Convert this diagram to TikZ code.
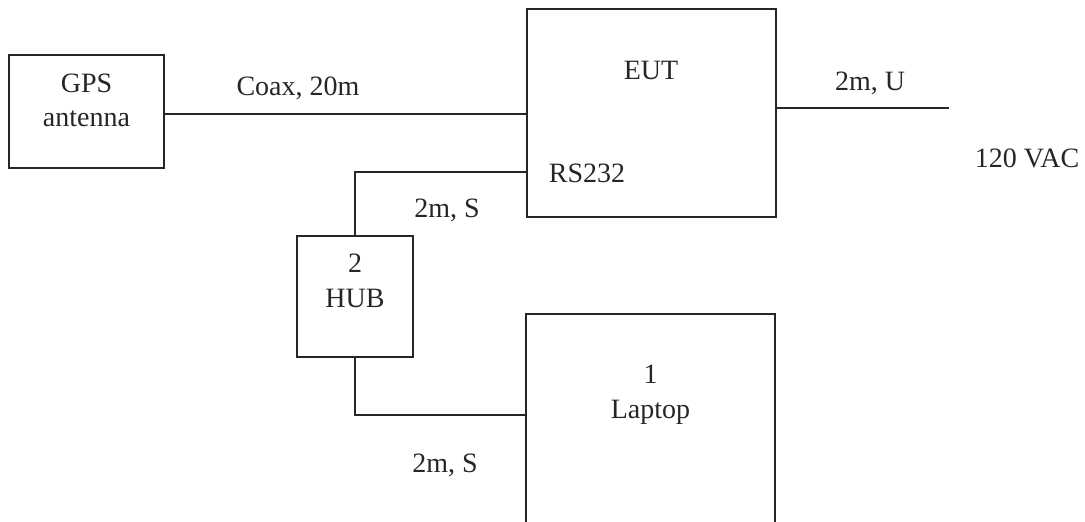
\documentclass[tikz,border=0pt]{standalone}
\usepackage{fontspec}
\setmainfont{Liberation Serif}
\tikzset{
  box/.style={draw=black!85, rectangle, inner sep=0pt},
  txt/.style={anchor=base, inner sep=0pt, text=black!85, font=\fontsize{14}{17}\selectfont},
  cable/.style={draw=black!85},
}
\begin{document}
\begin{tikzpicture}[x=0.5pt, y=-0.5pt, line width=0.75pt]
    \useasboundingbox (0,0) rectangle (1085,521);

    % Boxes
    \node[box, minimum width=77.5pt, minimum height=56.5pt] (gps) at (86.5,111.5) {};
    \node[box, minimum width=124.5pt, minimum height=104pt] (eut) at (651.5,113) {};
    \node[box, minimum width=58pt, minimum height=60.5pt] (hub) at (355,296.5) {};
    \node[box, minimum width=124.5pt, minimum height=110.5pt] (lap) at (650.5,424.5) {};

    % Box texts
    \node[txt] (gpsname) at (86.5,92) {GPS};
    \node[txt] (gpskind) at (86.5,126) {antenna};
    \node[txt] (eutname) at (651,79) {EUT};
    \node[txt] (rsname) at (587,182) {RS232};
    \node[txt] (hubnum) at (355,272) {2};
    \node[txt] (hubname) at (355,307) {HUB};
    \node[txt] (lapnum) at (650.5,383) {1};
    \node[txt] (lapname) at (650.5,418) {Laptop};

    % Ports
    \coordinate (coaxport) at (527,114);
    \coordinate (pwr) at (949,108);
    \coordinate (rsport) at (527,172);
    \coordinate (lanport) at (526,415);

    % Cables
    \draw[cable] (gps.east |- coaxport) -- (coaxport);
    \draw[cable] (eut.east |- pwr) -- (pwr);
    \draw[cable] (hub.north) |- (rsport);
    \draw[cable] (hub.south) |- (lanport);

    % Cable labels
    \node[txt] (coaxlbl) at (298,95) {Coax, 20m};
    \node[txt] (pwrlbl) at (870,90) {2m, U};
    \node[txt] (acsrc) at (1027,167) {120 VAC};
    \node[txt] (rslbl) at (447,217) {2m, S};
    \node[txt] (lanlbl) at (445,472) {2m, S};
\end{tikzpicture}
\end{document}
